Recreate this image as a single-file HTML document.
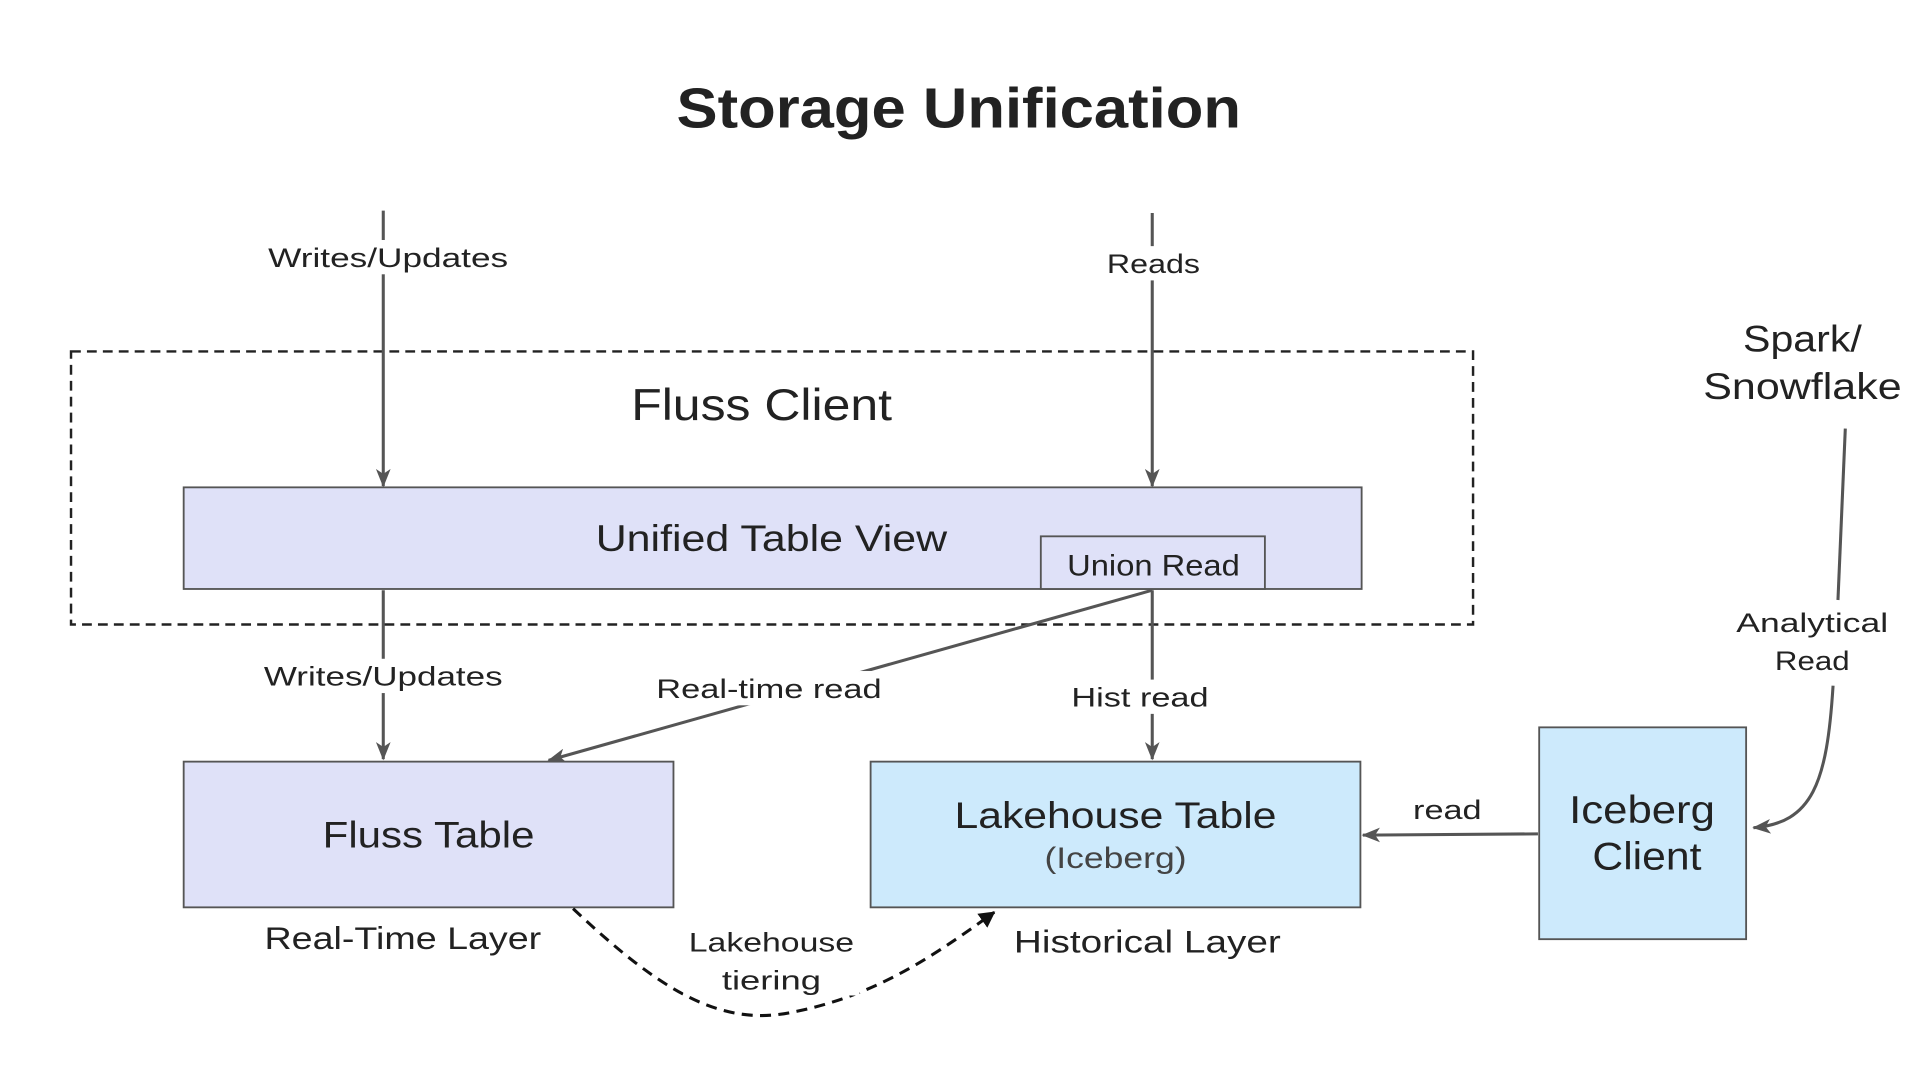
<!DOCTYPE html>
<html><head><meta charset="utf-8"><style>
html,body{margin:0;padding:0;background:#fff;}
svg{display:block;}
text{font-family:"Liberation Sans",sans-serif;fill:#222;}
</style></head><body>
<svg width="1920" height="1080" viewBox="0 0 1568 882" xmlns="http://www.w3.org/2000/svg">
<defs>
<marker id="b" markerWidth="14" markerHeight="14" refX="12" refY="7" orient="auto" markerUnits="userSpaceOnUse">
<path d="M0,0 L13,7 L0,14 z" fill="#111"/></marker>
<marker id="c" markerWidth="16" markerHeight="12" refX="14" refY="6" orient="auto" markerUnits="userSpaceOnUse">
<path d="M0,0 L15,6 L0,12 L4,6 z" fill="#555"/></marker>
</defs>
<text x="783" y="104" font-size="46" font-weight="bold" text-anchor="middle" textLength="461" lengthAdjust="spacingAndGlyphs">Storage Unification</text>
<rect x="58" y="287" width="1145" height="223" fill="none" stroke="#222" stroke-width="2" stroke-dasharray="8,5"/>
<text x="622" y="343" font-size="36" text-anchor="middle" textLength="213" lengthAdjust="spacingAndGlyphs">Fluss Client</text>

<line x1="313" y1="172" x2="313" y2="397" stroke="#555" stroke-width="2.5" marker-end="url(#c)"/>
<line x1="941" y1="174" x2="941" y2="397" stroke="#555" stroke-width="2.5" marker-end="url(#c)"/>
<rect x="215" y="196" width="204" height="28" fill="#fff"/>
<text x="317" y="218" font-size="22" text-anchor="middle" textLength="196" lengthAdjust="spacingAndGlyphs">Writes/Updates</text>
<rect x="900" y="201" width="82" height="28" fill="#fff"/>
<text x="942" y="223" font-size="22" text-anchor="middle" textLength="76" lengthAdjust="spacingAndGlyphs">Reads</text>

<rect x="150" y="398" width="962" height="83" fill="#dfe1f8" stroke="#555" stroke-width="1.5"/>
<text x="630" y="450" font-size="30" text-anchor="middle" textLength="287" lengthAdjust="spacingAndGlyphs">Unified Table View</text>
<rect x="850" y="438" width="183" height="43" fill="#dfe1f8" stroke="#555" stroke-width="1.5"/>
<text x="942" y="470" font-size="24" text-anchor="middle" textLength="141" lengthAdjust="spacingAndGlyphs">Union Read</text>

<line x1="313" y1="482" x2="313" y2="620" stroke="#555" stroke-width="2.5" marker-end="url(#c)"/>
<line x1="941" y1="482" x2="941" y2="620" stroke="#555" stroke-width="2.5" marker-end="url(#c)"/>
<line x1="941" y1="482" x2="448" y2="621" stroke="#555" stroke-width="2.5" marker-end="url(#c)"/>
<rect x="210" y="538" width="206" height="28" fill="#fff"/>
<text x="313" y="560" font-size="22" text-anchor="middle" textLength="195" lengthAdjust="spacingAndGlyphs">Writes/Updates</text>
<rect x="530" y="548" width="196" height="28" fill="#fff"/>
<text x="628" y="570" font-size="22" text-anchor="middle" textLength="184" lengthAdjust="spacingAndGlyphs">Real-time read</text>
<rect x="870" y="555" width="122" height="28" fill="#fff"/>
<text x="931" y="577" font-size="22" text-anchor="middle" textLength="112" lengthAdjust="spacingAndGlyphs">Hist read</text>

<rect x="150" y="622" width="400" height="119" fill="#dfe1f8" stroke="#555" stroke-width="1.5"/>
<text x="350" y="692" font-size="30" text-anchor="middle" textLength="173" lengthAdjust="spacingAndGlyphs">Fluss Table</text>
<text x="329" y="775" font-size="26" text-anchor="middle" textLength="226" lengthAdjust="spacingAndGlyphs">Real-Time Layer</text>

<rect x="711" y="622" width="400" height="119" fill="#cdeafc" stroke="#555" stroke-width="1.5"/>
<text x="911" y="676" font-size="30" text-anchor="middle" textLength="263" lengthAdjust="spacingAndGlyphs">Lakehouse Table</text>
<text x="911" y="709" font-size="24" text-anchor="middle" style="fill:#444" textLength="116" lengthAdjust="spacingAndGlyphs">(Iceberg)</text>
<text x="937" y="778" font-size="26" text-anchor="middle" textLength="218" lengthAdjust="spacingAndGlyphs">Historical Layer</text>

<rect x="1257" y="594" width="169" height="173" fill="#cdeafc" stroke="#555" stroke-width="1.5"/>
<text x="1341" y="672" font-size="32" text-anchor="middle" textLength="119" lengthAdjust="spacingAndGlyphs">Iceberg</text>
<text x="1345" y="710" font-size="32" text-anchor="middle" textLength="89" lengthAdjust="spacingAndGlyphs">Client</text>

<line x1="1256" y1="681" x2="1113" y2="682" stroke="#555" stroke-width="2.5" marker-end="url(#c)"/>
<text x="1182" y="669" font-size="22" text-anchor="middle" textLength="56" lengthAdjust="spacingAndGlyphs">read</text>

<text x="1472" y="287" font-size="30" text-anchor="middle" textLength="97" lengthAdjust="spacingAndGlyphs">Spark/</text>
<text x="1472" y="326" font-size="30" text-anchor="middle" textLength="162" lengthAdjust="spacingAndGlyphs">Snowflake</text>
<path d="M1507,350 L1501,490" stroke="#555" stroke-width="2.5" fill="none"/>
<text x="1480" y="516" font-size="22" text-anchor="middle" textLength="124" lengthAdjust="spacingAndGlyphs">Analytical</text>
<text x="1480" y="547" font-size="22" text-anchor="middle" textLength="61" lengthAdjust="spacingAndGlyphs">Read</text>
<path d="M1497,560 C1492,640 1480,672 1432,676" stroke="#555" stroke-width="2.5" fill="none" marker-end="url(#c)"/>

<path d="M468,742 C540,810 590,840 650,826 C720,812 770,775 812,745" stroke="#111" stroke-width="2.5" fill="none" stroke-dasharray="9,6" marker-end="url(#b)"/>
<rect x="558" y="757" width="144" height="56" fill="#fff"/>
<text x="630" y="777" font-size="22" text-anchor="middle" textLength="135" lengthAdjust="spacingAndGlyphs">Lakehouse</text>
<text x="630" y="808" font-size="22" text-anchor="middle" textLength="81" lengthAdjust="spacingAndGlyphs">tiering</text>
</svg>
</body></html>
